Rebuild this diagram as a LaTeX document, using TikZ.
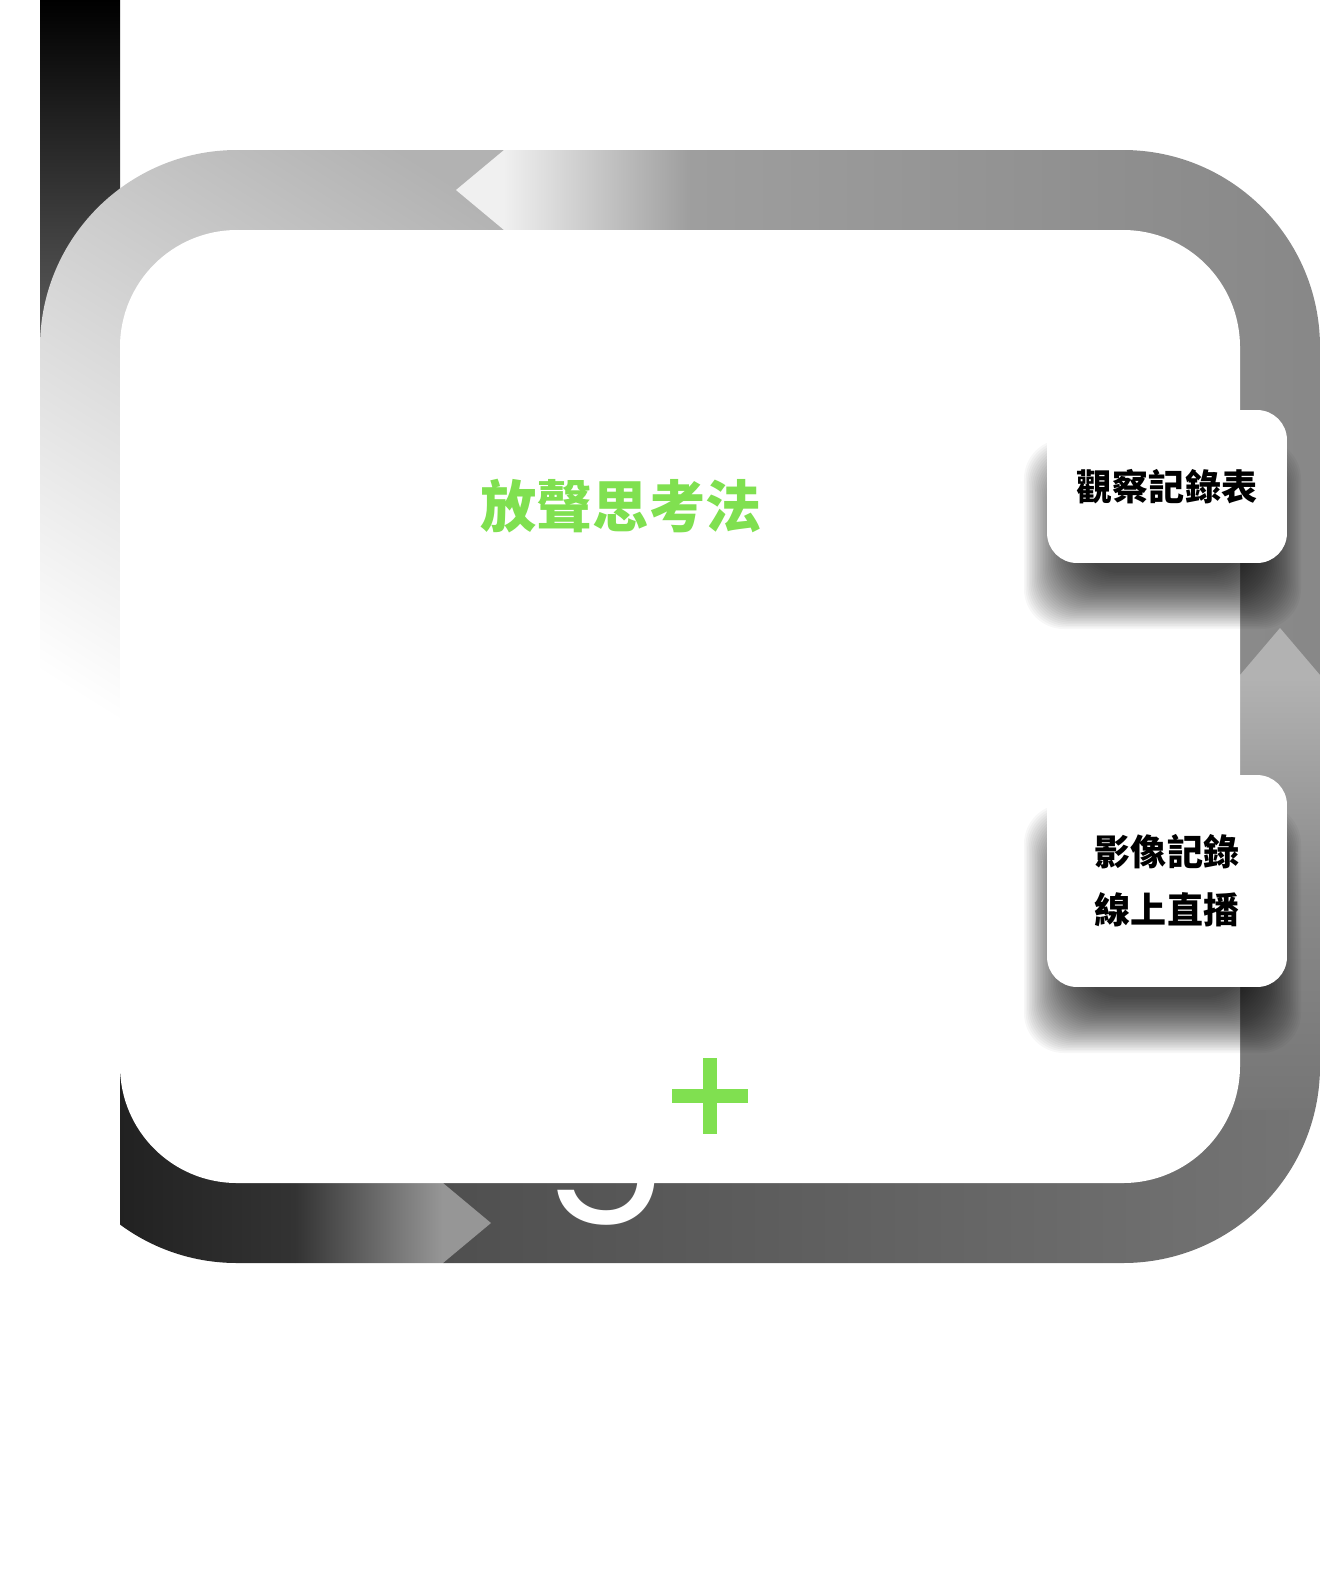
\documentclass[tikz,border=0pt]{standalone}
\usepackage{fontspec}
\newfontfamily\cjk{Noto Sans CJK TC}
\newfontfamily\latinfont{Poppins}
\definecolor{leafgreen}{HTML}{80E050}
\begin{document}
\begin{tikzpicture}[x=0.02cm, y=-0.02cm,
    notebox/.style={fill=white, rounded corners=0.6cm, minimum width=4.8cm, align=center,
      font=\cjk\bfseries\fontsize{20.5}{32.9}\selectfont},
    shadowlayer/.style={fill=black, opacity=0.03, rounded corners=0.8cm}]
    \useasboundingbox (0,0) rectangle (1320,1580);

    % Dark bar behind the loop
    \shade[top color=black, bottom color=black!55] (40,0) rectangle (120,420);

    % Loop segments
    \begin{scope}
      \clip[rounded corners=3.94cm] (40,150) rectangle (1320,1263);
      % top left, fading out on the left side
      \shade[top color=black!30, bottom color=white, shading angle=-32] (0,100) rectangle (540,790);
      % top right
      \shade[left color=black!6, right color=black!38] (504,100) rectangle (690,675);
      \shade[left color=black!38, right color=black!47] (690,100) rectangle (1330,675);
      % right side and bottom right
      \shade[top color=black!30, bottom color=black!54, middle color=black!46] (1200,675) rectangle (1330,1110);
      \shade[left color=black!69, right color=black!54] (443,1110) rectangle (1330,1270);
      % bottom left
      \shade[left color=black!87, right color=black!80] (120,1000) rectangle (295,1270);
      \shade[left color=black!80, right color=black!41] (295,1000) rectangle (443,1270);
      % Arrow heads
      \fill[black!6] (504,150) -- (456,190) -- (504,230) -- cycle;
      \fill[black!30] (1240,675) -- (1280,628) -- (1320,675) -- cycle;
      \fill[black!41] (443,1183) -- (491,1223) -- (443,1263) -- cycle;
    \end{scope}

    % Inner panel
    \fill[white, rounded corners=2.34cm] (120,230) rectangle (1240,1183);
    \node[white, inner sep=0pt, anchor=base west, font=\latinfont\fontsize{105}{105}\selectfont] (glyph) at (544,1175) {g};

    % Shadows of the notes
    \foreach \ya/\yb in {410/563, 775/987}
      \foreach \i in {0,...,35}
        \fill[shadowlayer] (1080-1.6*\i, \ya+85-1.6*\i) rectangle (1245+1.6*\i, \yb+10+1.6*\i);

    % Notes
    \node[notebox, minimum height=3.06cm] (record) at (1167,486.5) {觀察記錄表};
    \node[notebox, minimum height=4.24cm] (video) at (1167,881) {影像記錄\\線上直播};

    % Title and plus
    \node[leafgreen, font=\cjk\bfseries\fontsize{32}{38}\selectfont] (title) at (621,506) {放聲思考法};
    \draw[leafgreen, line width=0.28cm] (672,1096) -- (748,1096) (710,1058) -- (710,1134);
\end{tikzpicture}
\end{document}
